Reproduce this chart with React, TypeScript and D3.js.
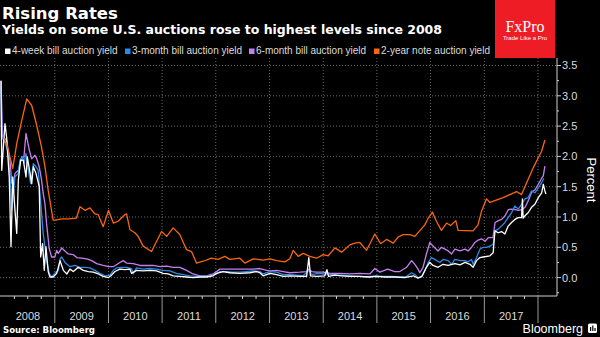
import React from "react";
import * as d3 from "d3";

type Pt = [string, number];

const title = "Rising Rates";
const subtitle = "Yields on some U.S. auctions rose to highest levels since 2008";
const source = "Source: Bloomberg";
const yTicks = [0, 0.5, 1, 1.5, 2, 2.5, 3, 3.5];
const yearLabels = ["2008", "2009", "2010", "2011", "2012", "2013", "2014", "2015", "2016", "2017"];
const seriesNames = ["4-week bill auction yield", "3-month bill auction yield", "6-month bill auction yield", "2-year note auction yield"];
const seriesColors = ["#ffffff", "#2a8ae8", "#c67ff0", "#f8660e"];

const fourWeek: Pt[] = [["2008-01-01",3.25],["2008-01-06",1.77],["2008-01-28",2.54],["2008-02-08",2.32],["2008-02-26",1.66],["2008-03-09",0.51],["2008-03-21",1.66],["2008-04-05",1.11],["2008-04-17",0.73],["2008-04-28",1.61],["2008-05-14",1.94],["2008-06-01",1.94],["2008-06-19",1.66],["2008-06-28",1.99],["2008-07-17",1.72],["2008-07-28",1.55],["2008-08-08",1.83],["2008-08-26",1.72],["2008-09-17",1.50],["2008-09-27",0.34],["2008-10-10",0.56],["2008-10-21",0.12],["2008-11-02",0.51],["2008-11-17",0.10],["2008-11-29",0.01],["2008-12-21",0.01],["2009-01-14",0.07],["2009-02-06",0.28],["2009-02-17",0.20],["2009-02-28",0.12],["2009-03-24",0.06],["2009-04-14",0.14],["2009-05-07",0.10],["2009-06-09",0.17],["2009-07-14",0.12],["2009-08-17",0.10],["2009-09-20",0.09],["2009-10-24",0.06],["2009-11-26",0.02],["2010-01-01",0.00],["2010-01-22",0.04],["2010-02-14",0.10],["2010-03-20",0.14],["2010-04-23",0.13],["2010-05-27",0.14],["2010-06-07",0.07],["2010-07-11",0.12],["2010-08-25",0.11],["2010-10-10",0.12],["2010-11-24",0.11],["2011-01-08",0.07],["2011-02-11",0.06],["2011-03-17",0.03],["2011-05-02",0.02],["2011-06-16",0.01],["2011-07-31",0.00],["2011-09-15",0.01],["2011-10-30",0.01],["2011-12-14",0.03],["2012-01-06",0.07],["2012-02-20",0.10],["2012-04-06",0.08],["2012-06-13",0.07],["2012-08-20",0.08],["2012-10-04",0.10],["2012-10-27",0.08],["2012-11-18",0.03],["2013-01-04",0.07],["2013-02-18",0.05],["2013-04-04",0.02],["2013-05-19",0.03],["2013-07-26",0.02],["2013-09-10",0.02],["2013-09-25",0.33],["2013-10-06",0.03],["2013-11-17",0.02],["2014-01-12",0.03],["2014-01-26",0.13],["2014-02-06",0.02],["2014-03-21",0.04],["2014-05-06",0.03],["2014-07-01",0.02],["2014-09-07",0.02],["2014-11-14",0.01],["2014-12-25",0.02],["2015-02-24",0.01],["2015-05-03",0.01],["2015-07-10",0.00],["2015-09-05",0.03],["2015-10-08",-0.01],["2015-11-03",0.02],["2015-12-04",0.17],["2015-12-27",0.25],["2016-01-18",0.20],["2016-02-21",0.17],["2016-03-26",0.22],["2016-04-30",0.20],["2016-06-15",0.23],["2016-07-19",0.21],["2016-08-22",0.25],["2016-09-25",0.22],["2016-10-17",0.17],["2016-11-09",0.28],["2016-12-02",0.33],["2016-12-24",0.34],["2017-02-08",0.36],["2017-03-02",0.41],["2017-03-14",0.77],["2017-04-05",0.74],["2017-04-28",0.76],["2017-05-21",0.72],["2017-06-12",0.85],["2017-07-05",0.91],["2017-07-28",0.96],["2017-08-19",0.99],["2017-09-11",0.99],["2017-09-17",1.30],["2017-09-22",0.98],["2017-10-04",1.02],["2017-10-26",1.07],["2017-11-18",1.16],["2017-12-11",1.21],["2018-01-03",1.32],["2018-01-26",1.40],["2018-02-06",1.54],["2018-02-17",1.43],["2018-02-24",1.38]];

const threeMonth: Pt[] = [["2008-01-01",3.15],["2008-01-06",2.32],["2008-01-28",2.24],["2008-02-19",2.05],["2008-03-07",1.50],["2008-03-14",1.11],["2008-03-25",1.39],["2008-04-05",1.66],["2008-04-28",1.72],["2008-05-09",1.94],["2008-05-28",1.99],["2008-06-05",1.88],["2008-06-19",2.05],["2008-07-05",1.77],["2008-07-21",1.55],["2008-08-08",1.88],["2008-08-26",1.83],["2008-09-10",1.77],["2008-09-22",1.39],["2008-10-03",1.06],["2008-10-14",0.73],["2008-10-26",0.51],["2008-11-06",0.29],["2008-11-24",0.07],["2008-12-10",0.01],["2009-01-01",0.07],["2009-01-25",0.12],["2009-02-06",0.31],["2009-02-17",0.34],["2009-03-11",0.25],["2009-04-14",0.18],["2009-05-18",0.20],["2009-06-21",0.17],["2009-07-25",0.17],["2009-08-28",0.16],["2009-10-01",0.12],["2009-11-04",0.07],["2009-12-08",0.03],["2010-01-11",0.04],["2010-02-03",0.12],["2010-02-25",0.16],["2010-03-31",0.17],["2010-05-04",0.17],["2010-06-07",0.15],["2010-06-18",0.06],["2010-07-11",0.16],["2010-08-25",0.14],["2010-10-10",0.15],["2010-11-24",0.14],["2011-01-08",0.12],["2011-02-23",0.11],["2011-04-09",0.07],["2011-05-24",0.05],["2011-07-09",0.03],["2011-08-23",0.02],["2011-10-07",0.02],["2011-11-22",0.03],["2012-01-06",0.06],["2012-01-29",0.10],["2012-03-15",0.10],["2012-04-29",0.09],["2012-06-13",0.09],["2012-07-28",0.10],["2012-09-11",0.11],["2012-10-27",0.10],["2012-11-18",0.06],["2013-01-04",0.10],["2013-02-18",0.09],["2013-04-04",0.05],["2013-05-19",0.05],["2013-07-04",0.04],["2013-08-18",0.03],["2013-09-26",0.12],["2013-10-14",0.05],["2013-11-26",0.07],["2014-01-12",0.06],["2014-03-10",0.05],["2014-05-06",0.04],["2014-07-01",0.03],["2014-08-27",0.02],["2014-10-23",0.01],["2014-12-18",0.03],["2015-02-13",0.02],["2015-04-11",0.02],["2015-06-06",0.01],["2015-07-22",0.02],["2015-08-25",0.08],["2015-09-16",0.05],["2015-10-08",0.00],["2015-11-01",0.01],["2015-11-23",0.11],["2015-12-16",0.25],["2016-01-07",0.33],["2016-01-30",0.30],["2016-03-04",0.25],["2016-03-26",0.30],["2016-04-30",0.28],["2016-05-23",0.22],["2016-06-15",0.30],["2016-07-19",0.28],["2016-08-22",0.28],["2016-09-13",0.26],["2016-10-06",0.30],["2016-10-17",0.22],["2016-11-09",0.33],["2016-12-02",0.47],["2016-12-24",0.50],["2017-01-16",0.50],["2017-02-08",0.52],["2017-03-02",0.55],["2017-03-14",0.77],["2017-04-05",0.80],["2017-04-28",0.85],["2017-05-21",0.91],["2017-06-12",0.99],["2017-07-05",1.07],["2017-07-28",1.18],["2017-08-19",1.13],["2017-09-11",1.21],["2017-10-04",1.30],["2017-10-26",1.32],["2017-11-18",1.43],["2017-12-11",1.40],["2018-01-03",1.48],["2018-01-26",1.57],["2018-02-10",1.64]];

const sixMonth: Pt[] = [["2008-01-01",3.25],["2008-01-12",2.32],["2008-02-08",2.27],["2008-03-02",1.94],["2008-03-14",1.56],["2008-03-25",1.52],["2008-04-05",1.72],["2008-04-28",1.77],["2008-05-21",1.99],["2008-06-05",1.99],["2008-06-19",2.38],["2008-06-28",2.27],["2008-07-12",2.10],["2008-07-28",1.96],["2008-08-19",2.02],["2008-08-31",1.96],["2008-09-17",1.83],["2008-10-03",1.61],["2008-10-14",1.39],["2008-10-26",1.22],["2008-11-06",0.89],["2008-11-24",0.48],["2008-12-10",0.34],["2009-01-01",0.34],["2009-01-14",0.45],["2009-01-25",0.40],["2009-02-06",0.44],["2009-02-17",0.49],["2009-03-11",0.44],["2009-04-02",0.39],["2009-05-06",0.38],["2009-05-30",0.33],["2009-07-03",0.32],["2009-08-06",0.31],["2009-09-09",0.28],["2009-10-13",0.23],["2009-11-26",0.20],["2010-01-01",0.18],["2010-02-03",0.18],["2010-03-20",0.25],["2010-04-11",0.28],["2010-05-04",0.24],["2010-06-18",0.23],["2010-08-03",0.20],["2010-09-17",0.20],["2010-11-01",0.20],["2010-12-17",0.18],["2011-02-01",0.19],["2011-03-17",0.17],["2011-05-02",0.17],["2011-06-16",0.12],["2011-07-31",0.06],["2011-09-15",0.03],["2011-10-30",0.03],["2011-12-14",0.06],["2012-01-29",0.14],["2012-03-15",0.14],["2012-04-29",0.14],["2012-06-13",0.14],["2012-07-28",0.14],["2012-09-11",0.14],["2012-10-27",0.15],["2012-12-12",0.12],["2013-01-04",0.11],["2013-02-18",0.12],["2013-04-04",0.10],["2013-05-19",0.08],["2013-07-26",0.09],["2013-09-10",0.10],["2013-09-25",0.14],["2013-10-14",0.10],["2013-11-17",0.09],["2014-01-01",0.09],["2014-02-15",0.07],["2014-04-24",0.07],["2014-07-01",0.06],["2014-09-07",0.07],["2014-11-14",0.06],["2014-12-18",0.15],["2015-01-21",0.09],["2015-03-16",0.14],["2015-05-03",0.10],["2015-06-06",0.10],["2015-07-22",0.17],["2015-08-25",0.28],["2015-09-16",0.22],["2015-10-08",0.14],["2015-10-20",0.08],["2015-11-11",0.17],["2015-12-04",0.39],["2015-12-27",0.58],["2016-01-18",0.52],["2016-02-21",0.44],["2016-03-15",0.50],["2016-04-08",0.47],["2016-04-30",0.44],["2016-05-23",0.39],["2016-06-15",0.47],["2016-07-19",0.44],["2016-08-22",0.47],["2016-09-13",0.44],["2016-10-06",0.50],["2016-10-29",0.58],["2016-11-20",0.62],["2016-12-13",0.64],["2017-01-06",0.60],["2017-01-28",0.66],["2017-03-01",0.66],["2017-03-15",0.91],["2017-04-06",0.94],["2017-04-29",0.96],["2017-05-22",1.02],["2017-06-13",1.12],["2017-07-06",1.13],["2017-07-29",1.12],["2017-08-20",1.11],["2017-09-12",1.12],["2017-10-05",1.16],["2017-10-27",1.27],["2017-11-19",1.41],["2017-12-12",1.45],["2018-01-03",1.54],["2018-01-26",1.64],["2018-02-06",1.68],["2018-02-17",1.84]];

const twoYear: Pt[] = [["2008-01-16",2.32],["2008-02-08",2.21],["2008-03-02",1.99],["2008-03-21",1.80],["2008-04-17",2.21],["2008-05-21",2.59],["2008-06-24",2.95],["2008-07-28",2.84],["2008-08-31",2.51],["2008-10-03",2.15],["2008-10-26",1.83],["2008-11-17",1.44],["2008-12-21",0.95],["2009-01-05",0.95],["2009-02-20",0.97],["2009-04-10",0.97],["2009-05-28",0.98],["2009-06-21",1.17],["2009-07-25",1.11],["2009-08-28",1.15],["2009-10-01",1.05],["2009-10-23",1.04],["2009-11-26",0.84],["2010-01-01",1.11],["2010-02-03",0.90],["2010-03-08",0.93],["2010-04-23",1.04],["2010-05-04",1.05],["2010-05-27",0.79],["2010-06-30",0.74],["2010-07-22",0.68],["2010-08-25",0.52],["2010-10-21",0.43],["2010-12-28",0.76],["2011-02-01",0.68],["2011-03-17",0.82],["2011-05-01",0.71],["2011-06-16",0.46],["2011-07-20",0.43],["2011-08-23",0.24],["2011-10-07",0.27],["2011-12-03",0.32],["2012-01-17",0.30],["2012-03-03",0.35],["2012-04-06",0.30],["2012-06-13",0.32],["2012-07-17",0.24],["2012-09-11",0.31],["2012-11-18",0.29],["2013-01-04",0.31],["2013-02-18",0.28],["2013-04-15",0.26],["2013-05-19",0.31],["2013-06-11",0.45],["2013-07-15",0.35],["2013-08-18",0.40],["2013-10-02",0.35],["2013-11-17",0.32],["2014-01-01",0.38],["2014-02-04",0.36],["2014-03-21",0.49],["2014-05-06",0.42],["2014-07-01",0.54],["2014-08-04",0.57],["2014-09-07",0.58],["2014-10-23",0.45],["2014-12-18",0.72],["2015-01-26",0.56],["2015-03-08",0.63],["2015-04-22",0.57],["2015-05-26",0.67],["2015-06-29",0.71],["2015-08-13",0.71],["2015-09-16",0.68],["2015-11-23",0.87],["2015-12-16",0.98],["2016-01-14",1.08],["2016-02-10",0.93],["2016-03-15",0.78],["2016-04-19",0.90],["2016-05-16",0.86],["2016-06-21",0.94],["2016-07-06",0.78],["2016-10-16",0.77],["2016-11-19",0.87],["2016-12-12",1.09],["2017-01-16",1.30],["2017-02-08",1.24],["2017-05-09",1.32],["2017-08-08",1.42],["2017-09-11",1.37],["2017-10-15",1.56],["2017-11-29",1.81],["2018-01-25",2.08],["2018-02-17",2.27]];

const W = 600;
const H = 337;
const AXIS_X = 557;
const BASE_Y = 296;
const TOP_Y = 58;

export default function App() {
  const parse = d3.timeParse("%Y-%m-%d");
  const x = d3.scaleTime().domain([parse("2008-01-01")!, parse("2018-01-01")!]).range([1, 538]);
  const y = d3.scaleLinear().domain([0, 3.5]).range([277.6, 65.5]);
  const line = d3
    .line<Pt>()
    .x((d) => x(parse(d[0])!))
    .y((d) => y(d[1]));

  const yearStarts = d3.timeYear.range(parse("2009-01-01")!, parse("2018-01-02")!);
  const allYears = d3.timeYear.range(parse("2008-01-01")!, parse("2018-01-02")!);
  const quarters = d3.timeMonth
    .every(3)!
    .range(parse("2008-01-01")!, parse("2018-01-02")!)
    .filter((d) => d.getMonth() !== 0);
  const minorY = d3.range(-0.25, 3.5, 0.5);

  const series: Pt[][] = [sixMonth, threeMonth, fourWeek, twoYear];
  const seriesColorOrder = [seriesColors[2], seriesColors[1], seriesColors[0], seriesColors[3]];

  const legendX = [5, 125, 249, 374];
  const font = "'Liberation Sans', Arial, sans-serif";
  const boldFont = "'DejaVu Sans', sans-serif";

  return (
    <svg width={W} height={H} style={{ position: "absolute", left: 0, top: 0, background: "#000" }}>
      <rect x={0} y={0} width={W} height={H} fill="#000" />

      {/* grid */}
      {yTicks.map((t) => (
        <line key={"gy" + t} x1={0} x2={AXIS_X} y1={y(t)} y2={y(t)} stroke="#6a6a6a" strokeWidth={1} strokeDasharray="1,2" />
      ))}
      {yearStarts.map((d, i) => (
        <line key={"gx" + i} x1={x(d)} x2={x(d)} y1={TOP_Y} y2={BASE_Y} stroke="#6a6a6a" strokeWidth={1} strokeDasharray="1,2" />
      ))}

      {/* series */}
      {series.map((s, i) => (
        <path key={"s" + i} d={line(s) || ""} fill="none" stroke={seriesColorOrder[i]} strokeWidth={1.3} strokeLinejoin="round" />
      ))}

      {/* x axis */}
      <line x1={0} x2={AXIS_X} y1={BASE_Y} y2={BASE_Y} stroke="#cfcfcf" strokeWidth={1} />
      {quarters.map((d, i) => (
        <line key={"q" + i} x1={x(d)} x2={x(d)} y1={BASE_Y} y2={BASE_Y + 3} stroke="#cfcfcf" strokeWidth={1} />
      ))}
      {yearStarts.map((d, i) => (
        <line key={"ys" + i} x1={x(d)} x2={x(d)} y1={BASE_Y} y2={323} stroke="#9a9a9a" strokeWidth={1} />
      ))}
      {allYears.slice(0, yearLabels.length).map((d, i) => {
        const next = d3.timeYear.offset(d, 1);
        return (
          <text key={"yl" + i} x={(x(d) + x(next)) / 2} y={320} textAnchor="middle" fontFamily={font} fontSize={11} fill="#dcdcdc">
            {yearLabels[i]}
          </text>
        );
      })}

      {/* y axis */}
      <line x1={AXIS_X} x2={AXIS_X} y1={TOP_Y} y2={BASE_Y} stroke="#cfcfcf" strokeWidth={1} />
      {yTicks.map((t) => (
        <g key={"yt" + t}>
          <line x1={AXIS_X} x2={AXIS_X + 4} y1={y(t)} y2={y(t)} stroke="#cfcfcf" strokeWidth={1} />
          <text x={AXIS_X + 5} y={y(t)} dy="0.36em" fontFamily={font} fontSize={11} fill="#dcdcdc">
            {d3.format(".1f")(t)}
          </text>
        </g>
      ))}
      {minorY.map((t) => (
        <line key={"my" + t} x1={AXIS_X} x2={AXIS_X + 2} y1={y(t)} y2={y(t)} stroke="#cfcfcf" strokeWidth={1} />
      ))}
      <text transform="translate(587,180) rotate(90)" textAnchor="middle" fontFamily={font} fontSize={13} fill="#ffffff">
        Percent
      </text>

      {/* title */}
      <text x={2} y={18.5} fontFamily={boldFont} fontWeight="bold" fontSize={16.5} fill="#fff">
        {title}
      </text>
      <text x={2} y={34} fontFamily={boldFont} fontWeight="bold" fontSize={12.5} fill="#fff" textLength={440} lengthAdjust="spacingAndGlyphs">
        {subtitle}
      </text>

      {/* legend */}
      {seriesNames.map((n, i) => (
        <g key={"lg" + i}>
          <rect x={legendX[i]} y={48.5} width={5.5} height={5.5} fill={seriesColors[i]} />
          <text x={legendX[i] + 7} y={53.5} fontFamily={font} fontSize={10} fill="#dcdcdc">
            {n}
          </text>
        </g>
      ))}

      {/* logo */}
      <rect x={495} y={0} width={60} height={58} fill="#ee1c25" />
      <text x={525} y={32} textAnchor="middle" fontFamily="'Liberation Serif', 'DejaVu Serif', serif" fontSize={16} fill="#fff">
        FxPro
      </text>
      <text x={525} y={39.5} textAnchor="middle" fontFamily={font} fontSize={6} fill="#fff">
        Trade Like a Pro
      </text>

      {/* footer */}
      <text x={3} y={333} fontFamily={boldFont} fontWeight="bold" fontSize={9} fill="#fff" textLength={92} lengthAdjust="spacingAndGlyphs">
        {source}
      </text>
      <text x={583} y={333} textAnchor="end" fontFamily={font} fontSize={12.5} fill="#fff">
        Bloomberg
      </text>
      <rect x={588} y={323.5} width={9} height={9.5} rx={1.5} fill="#fff" />
      <rect x={590} y={327} width={1.2} height={4} fill="#000" />
      <rect x={592.2} y={325.5} width={1.2} height={5.5} fill="#000" />
      <rect x={594.4} y={328} width={1.2} height={3} fill="#000" />
    </svg>
  );
}
